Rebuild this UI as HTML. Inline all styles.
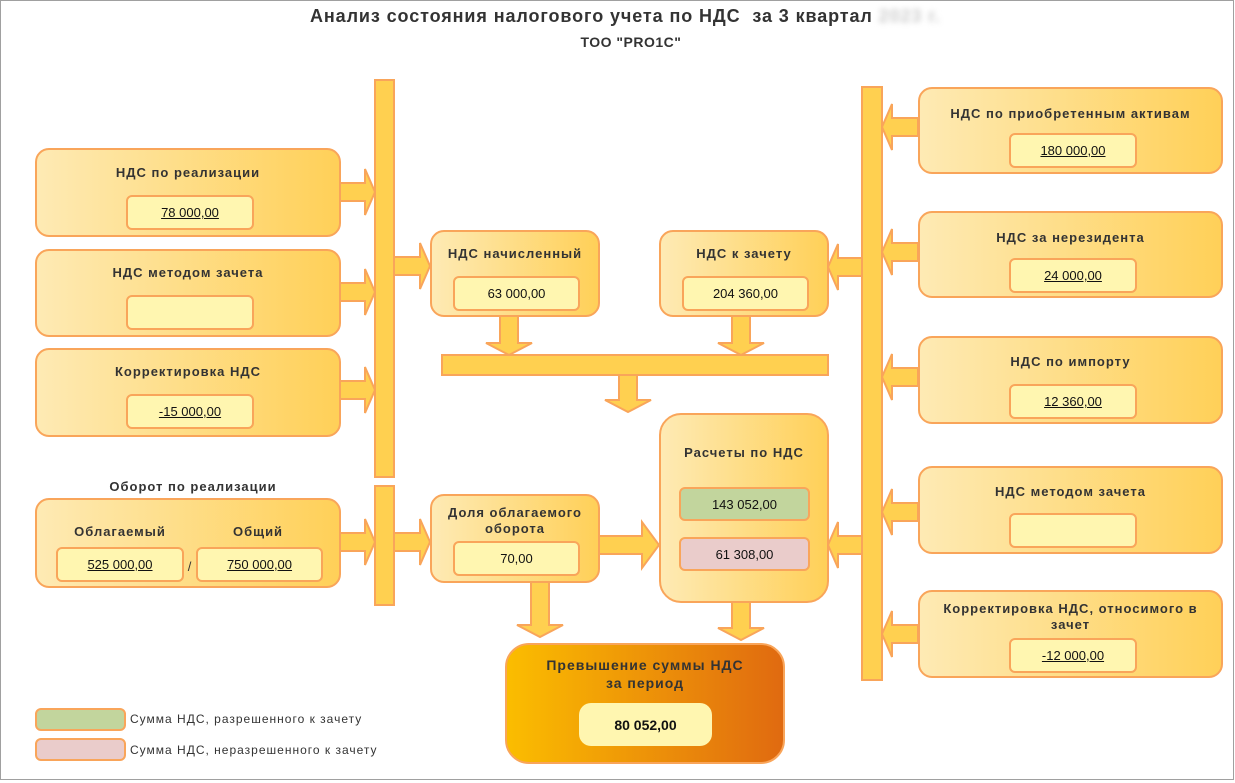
<!DOCTYPE html>
<html><head><meta charset="utf-8"><style>
body{margin:0;width:1235px;height:783px;background:#fff;position:relative;overflow:hidden;font-family:"Liberation Sans",sans-serif;}
.frame{position:absolute;left:0;top:0;width:1232px;height:778px;border:1px solid #a0a0a0;}
.t{position:absolute;font-weight:bold;color:#333;text-align:center;font-size:13px;letter-spacing:1px;white-space:nowrap;}
.box{position:absolute;border:2px solid #f9a55a;border-radius:14px;background:linear-gradient(to right,#feeab4,#ffd058);box-sizing:border-box;}
.f{position:absolute;border:2px solid #f9a55a;border-radius:6px;background:#fff6b0;box-sizing:border-box;text-align:center;font-size:13px;color:#111;display:flex;align-items:center;justify-content:center;}
.u{text-decoration:underline;}
svg{position:absolute;left:0;top:0;}
</style></head><body>
<div class="frame"></div>
<div class="t" style="left:310px;top:6px;font-size:18px;text-align:left;letter-spacing:0.9px;">Анализ состояния налогового учета по НДС&nbsp; за 3 квартал <span style="color:#ccc;filter:blur(3px)">2023 г.</span></div>
<div class="t" style="left:531px;top:34px;width:200px;font-size:14px;letter-spacing:0.5px;">ТОО "PRO1C"</div>

<svg width="1235" height="783">
<g fill="#ffd050" stroke="#f9a55a" stroke-width="2">
<rect x="375" y="80" width="19" height="397"/>
<rect x="375" y="486" width="19" height="119"/>
<rect x="862" y="87" width="20" height="593"/>
<rect x="442" y="355" width="386" height="20"/>
<polygon points="340,183 365,183 365,169 375,192 365,215 365,201 340,201"/>
<polygon points="340,283 365,283 365,269 375,292 365,315 365,301 340,301"/>
<polygon points="340,381 365,381 365,367 375,390 365,413 365,399 340,399"/>
<polygon points="340,533 365,533 365,519 375,542 365,565 365,551 340,551"/>
<polygon points="394,257 420,257 420,243 430,266 420,289 420,275 394,275"/>
<polygon points="394,533 420,533 420,519 430,542 420,565 420,551 394,551"/>
<polygon points="599,536 642,536 642,522 659,545 642,568 642,554 599,554"/>
<polygon points="918,118 892,118 892,104 882,127 892,150 892,136 918,136"/>
<polygon points="918,243 892,243 892,229 882,252 892,275 892,261 918,261"/>
<polygon points="918,368 892,368 892,354 882,377 892,400 892,386 918,386"/>
<polygon points="918,503 892,503 892,489 882,512 892,535 892,521 918,521"/>
<polygon points="918,625 892,625 892,611 882,634 892,657 892,643 918,643"/>
<polygon points="862,258 838,258 838,244 828,267 838,290 838,276 862,276"/>
<polygon points="862,536 838,536 838,522 828,545 838,568 838,554 862,554"/>
<polygon points="500,316 518,316 518,343 532,343 509,355 486,343 500,343"/>
<polygon points="732,316 750,316 750,343 764,343 741,355 718,343 732,343"/>
<polygon points="619,375 637,375 637,400 651,400 628,412 605,400 619,400"/>
<polygon points="531,582 549,582 549,625 563,625 540,637 517,625 531,625"/>
<polygon points="732,602 750,602 750,628 764,628 741,640 718,628 732,628"/>
</g>
</svg>

<div class="box" style="left:35px;top:148px;width:306px;height:89px;"></div>
<div class="t" style="left:35px;top:165px;width:306px;">НДС по реализации</div>
<div class="f u" style="left:126px;top:195px;width:128px;height:35px;">78 000,00</div>

<div class="box" style="left:35px;top:249px;width:306px;height:88px;"></div>
<div class="t" style="left:35px;top:265px;width:306px;">НДС методом зачета</div>
<div class="f" style="left:126px;top:295px;width:128px;height:35px;"></div>

<div class="box" style="left:35px;top:348px;width:306px;height:89px;"></div>
<div class="t" style="left:35px;top:364px;width:306px;">Корректировка НДС</div>
<div class="f u" style="left:126px;top:394px;width:128px;height:35px;">-15 000,00</div>

<div class="t" style="left:35px;top:479px;width:316px;">Оборот по реализации</div>
<div class="box" style="left:35px;top:498px;width:306px;height:90px;"></div>
<div class="t" style="left:60px;top:524px;width:120px;">Облагаемый</div>
<div class="t" style="left:198px;top:524px;width:120px;">Общий</div>
<div class="f u" style="left:56px;top:547px;width:128px;height:35px;">525 000,00</div>
<div class="t" style="left:184px;top:559px;width:12px;font-weight:normal;">/</div>
<div class="f u" style="left:196px;top:547px;width:127px;height:35px;">750 000,00</div>

<div class="box" style="left:430px;top:230px;width:170px;height:87px;"></div>
<div class="t" style="left:430px;top:246px;width:170px;">НДС начисленный</div>
<div class="f" style="left:453px;top:276px;width:127px;height:35px;">63 000,00</div>

<div class="box" style="left:659px;top:230px;width:170px;height:87px;"></div>
<div class="t" style="left:659px;top:246px;width:170px;">НДС к зачету</div>
<div class="f" style="left:682px;top:276px;width:127px;height:35px;">204 360,00</div>

<div class="box" style="left:659px;top:413px;width:170px;height:190px;border-radius:22px;"></div>
<div class="t" style="left:659px;top:445px;width:170px;">Расчеты по НДС</div>
<div class="f" style="left:679px;top:487px;width:131px;height:34px;background:#c2d59d;">143 052,00</div>
<div class="f" style="left:679px;top:537px;width:131px;height:34px;background:#eacccb;">61 308,00</div>

<div class="box" style="left:430px;top:494px;width:170px;height:89px;"></div>
<div class="t" style="left:430px;top:505px;width:170px;line-height:16px;">Доля облагаемого<br>оборота</div>
<div class="f" style="left:453px;top:541px;width:127px;height:35px;">70,00</div>

<div class="box" style="left:505px;top:643px;width:280px;height:121px;border-radius:24px;background:linear-gradient(to right,#fbbd00,#e06a10);"></div>
<div class="t" style="left:505px;top:656px;width:280px;font-size:14px;line-height:18px;">Превышение суммы НДС<br>за период</div>
<div class="f" style="left:579px;top:703px;width:133px;height:43px;border:none;border-radius:12px;font-weight:bold;font-size:14px;">80 052,00</div>

<div class="box" style="left:918px;top:87px;width:305px;height:87px;"></div>
<div class="t" style="left:918px;top:106px;width:305px;">НДС по приобретенным активам</div>
<div class="f u" style="left:1009px;top:133px;width:128px;height:35px;">180 000,00</div>

<div class="box" style="left:918px;top:211px;width:305px;height:87px;"></div>
<div class="t" style="left:918px;top:230px;width:305px;">НДС за нерезидента</div>
<div class="f u" style="left:1009px;top:258px;width:128px;height:35px;">24 000,00</div>

<div class="box" style="left:918px;top:336px;width:305px;height:88px;"></div>
<div class="t" style="left:918px;top:354px;width:305px;">НДС по импорту</div>
<div class="f u" style="left:1009px;top:384px;width:128px;height:35px;">12 360,00</div>

<div class="box" style="left:918px;top:466px;width:305px;height:88px;"></div>
<div class="t" style="left:918px;top:484px;width:305px;">НДС методом зачета</div>
<div class="f" style="left:1009px;top:513px;width:128px;height:35px;"></div>

<div class="box" style="left:918px;top:590px;width:305px;height:88px;"></div>
<div class="t" style="left:918px;top:601px;width:305px;line-height:16px;">Корректировка НДС, относимого в<br>зачет</div>
<div class="f u" style="left:1009px;top:638px;width:128px;height:35px;">-12 000,00</div>

<div class="f" style="left:35px;top:708px;width:91px;height:23px;background:#c2d59d;"></div>
<div class="t" style="left:130px;top:712px;font-weight:normal;font-size:12px;text-align:left;">Сумма НДС, разрешенного к зачету</div>
<div class="f" style="left:35px;top:738px;width:91px;height:23px;background:#eacccb;"></div>
<div class="t" style="left:130px;top:743px;font-weight:normal;font-size:12px;text-align:left;">Сумма НДС, неразрешенного к зачету</div>
</body></html>
